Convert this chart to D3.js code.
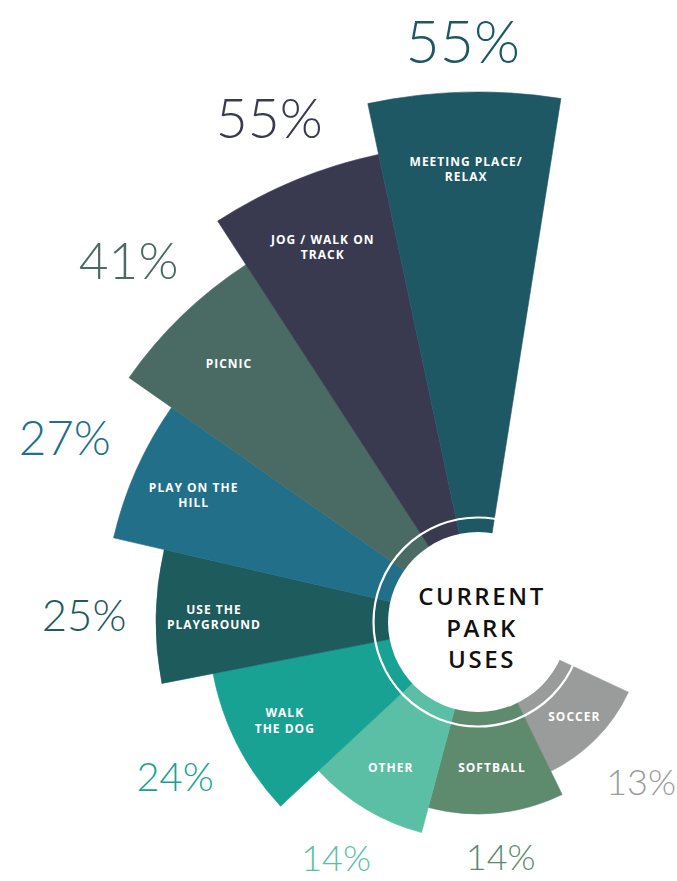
<!DOCTYPE html>
<html>
<head>
<meta charset="utf-8">
<script src="https://cdn.jsdelivr.net/npm/d3@7"></script>
<style>
  body { margin: 0; background: #fff; }
  svg { display: block; }
</style>
</head>
<body>
<svg id="chart"></svg>
<script>
var categories = ["Meeting Place/ Relax", "Jog / Walk on Track", "Picnic", "Play on the Hill",
  "Use the Playground", "Walk the Dog", "Other", "Softball", "Soccer"];
var labelLines = [["MEETING PLACE/", "RELAX"], ["JOG / WALK ON", "TRACK"], ["PICNIC"],
  ["PLAY ON THE", "HILL"], ["USE THE", "PLAYGROUND"], ["WALK", "THE DOG"], ["OTHER"],
  ["SOFTBALL"], ["SOCCER"]];
var values = [55, 55, 41, 27, 25, 24, 14, 14, 13];
var centerTitle = ["CURRENT", "PARK", "USES"];

var W = 677, H = 881, cx = 478, cy = 622;
var svg = d3.select("#chart").attr("width", W).attr("height", H);
var g = svg.append("g").attr("transform", "translate(" + cx + "," + cy + ")");

var color = d3.scaleOrdinal().domain(categories)
  .range(["#1e5864", "#393a4f", "#4a6b63", "#226f89", "#1d5b5c", "#18a294", "#5bbfa6", "#5e8a6e", "#9a9c9c"]);

// the original is a spiral: outer radius steps down with rank, not with the value
var radius = d3.scaleLinear().domain([0, 6, 8]).range([530, 218, 166]);
// wedge edges (degrees clockwise from 12 o'clock), wider as the wedges get shorter
var edge = d3.scaleLinear().domain([0, 2, 4, 5, 6, 7, 8, 9]).range([9, -33, -77, -101, -133, -165, -206, -245]);
var fontSize = d3.scaleLinear().domain([218, 530]).range([36, 59]).clamp(true);
// where the name sits inside a wedge, from the wedge's outer radius
var nameRadius = d3.scaleLinear().domain([166, 192, 530]).range([135, 146, 453]);
var rad = function(d) { return d * Math.PI / 180; };

var wedges = d3.range(categories.length).map(function(i) {
  var a0 = rad(edge(i + 1)), a1 = rad(edge(i));
  return { i: i, name: categories[i], value: values[i], lines: labelLines[i],
           r: radius(i), a0: a0, a1: a1, mid: (a0 + a1) / 2 };
});

var arc = d3.arc()
  .innerRadius(0)
  .outerRadius(function(d) { return d.r; })
  .startAngle(function(d) { return d.a0; })
  .endAngle(function(d) { return d.a1; });

g.selectAll("path.wedge")
  .data(wedges.slice().reverse())
  .enter().append("path")
  .attr("class", "wedge")
  .attr("d", arc)
  .attr("fill", function(d) { return color(d.name); })
  .attr("stroke", function(d) { return color(d.name); })
  .attr("stroke-width", 0.6);

// centre disc and thin ring
g.append("circle").attr("r", 90).attr("fill", "#fff");
g.append("circle").attr("r", 104.5).attr("fill", "none").attr("stroke", "#fff").attr("stroke-width", 2.2);

// category names inside the wedges
var inner = g.selectAll("text.cat")
  .data(wedges)
  .enter().append("text")
  .attr("class", "cat")
  .attr("text-anchor", "middle")
  .attr("fill", "#fff")
  .style("font-family", "'Open Sans', sans-serif")
  .style("font-weight", 700)
  .style("font-size", "12px")
  .style("letter-spacing", "1px")
  .attr("transform", function(d) {
    var rl = nameRadius(d.r);
    return "translate(" + (rl * Math.sin(d.mid)) + "," + (-rl * Math.cos(d.mid)) + ")";
  });
inner.selectAll("tspan")
  .data(function(d) { return d.lines.map(function(t, k) { return { t: t, k: k, n: d.lines.length }; }); })
  .enter().append("tspan")
  .attr("x", 0)
  .attr("y", function(d) { return (d.k - (d.n - 1) / 2) * 15.5 + 4.3; })
  .text(function(d) { return d.t; });

// percentages outside each wedge
function labelDist(d) {
  var fs = fontSize(d.r);
  return d.r + 28 + fs * Math.abs(Math.sin(d.mid)) + 0.36 * fs * Math.abs(Math.cos(d.mid));
}
g.selectAll("text.pct")
  .data(wedges)
  .enter().append("text")
  .attr("class", "pct")
  .attr("text-anchor", "middle")
  .attr("fill", function(d) { return color(d.name); })
  .style("font-family", "Lato, 'Open Sans', sans-serif")
  .style("font-weight", 300)
  .style("font-size", function(d) { return fontSize(d.r) + "px"; })
  .attr("x", function(d) { return labelDist(d) * Math.sin(d.mid); })
  .attr("y", function(d) { return -labelDist(d) * Math.cos(d.mid) + 0.36 * fontSize(d.r); })
  .text(function(d) { return d.value + "%"; });

// title in the middle
g.append("text")
  .attr("text-anchor", "middle")
  .attr("fill", "#111")
  .style("font-family", "'Open Sans', sans-serif")
  .style("font-weight", 600)
  .style("font-size", "24px")
  .style("letter-spacing", "2.6px")
  .selectAll("tspan")
  .data(centerTitle)
  .enter().append("tspan")
  .attr("x", 4)
  .attr("y", function(d, k) { return -17 + k * 31.5; })
  .text(function(d) { return d; });
</script>
</body>
</html>
